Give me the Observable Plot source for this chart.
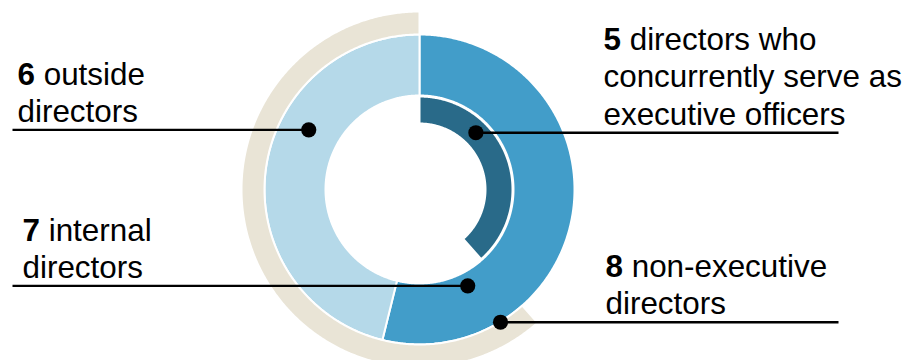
<!DOCTYPE html>
<html>
<head>
<meta charset="utf-8">
<script src="https://cdn.jsdelivr.net/npm/d3@7"></script>
<script src="https://cdn.jsdelivr.net/npm/@observablehq/plot@0.6"></script>
<style>
  html, body { margin: 0; padding: 0; background: #ffffff; }
</style>
</head>
<body>
<div id="chart"></div>
<script>
// ---------------- data ----------------
const categories = ["internal directors", "outside directors", "directors who concurrently serve as executive officers", "non-executive directors"];
const counts = [7, 6, 5, 8];
const rings = ["main", "main", "inner", "outer"];
// number of directors already passed (clockwise from 12 o'clock) before each arc starts
const starts = [0, 7, 0, 5];
const totalDirectors = 13;
const labelLines = [
  ["internal", "directors"],
  ["outside", "directors"],
  ["directors who", "concurrently serve as", "executive officers"],
  ["non-executive", "directors"]
];

// ---------------- styles / layout ----------------
const colors = ["#429dc9", "#b5d9e9", "#296a89", "#e9e4d6"];
const ringRadii = { main: [94, 155], inner: [66, 93], outer: [155, 178] };
// pointer dot (angle clockwise from top, radius) and leader line end / label x
const pointerAngle = [153.4, 298.3, 44.8, 148.6];
const pointerRadius = [107.7, 125.8, 80, 155.5];
const leaderEnd = [-407, -407, 419, 419];
const labelX = [-397, -402, 184, 186];
const fontSize = 31.4;
const lineGap = 37.3;
const baselineAbove = 8;
const fontFamily = "'Liberation Sans', Arial, Helvetica, sans-serif";

// ---------------- geometry ----------------
const rad = Math.PI / 180;
const polar = (deg, r) => [r * Math.sin(deg * rad), r * Math.cos(deg * rad)];

const arcMarks = categories.map((c, i) => {
  const a0 = starts[i] / totalDirectors * 360;
  const a1 = (starts[i] + counts[i]) / totalDirectors * 360;
  const [r0, r1] = ringRadii[rings[i]];
  const steps = Math.max(2, Math.ceil((a1 - a0) / 0.5));
  const pts = [];
  for (let k = 0; k <= steps; ++k) {
    const [x, y] = polar(a0 + (a1 - a0) * k / steps, r1);
    pts.push({x, y});
  }
  for (let k = steps; k >= 0; --k) {
    const [x, y] = polar(a0 + (a1 - a0) * k / steps, r0);
    pts.push({x, y});
  }
  pts.push(pts[0]);
  return Plot.line(pts, {x: "x", y: "y", fill: colors[i], stroke: "#ffffff", strokeWidth: 2, curve: "linear"});
});

const pointers = categories.map((c, i) => {
  const [x, y] = polar(pointerAngle[i], pointerRadius[i]);
  return {category: c, x, y, end: leaderEnd[i]};
});

// measure bold number + space to offset the rest of the first line
const ctx = document.createElement("canvas").getContext("2d");
function numberWidth(n) {
  ctx.font = `bold ${fontSize}px ${fontFamily}`;
  let w = ctx.measureText(String(n)).width;
  ctx.font = `${fontSize}px ${fontFamily}`;
  w += ctx.measureText(" ").width;
  return w;
}

const numberRows = [];
const textRows = [];
categories.forEach((c, i) => {
  const lines = labelLines[i];
  const n = lines.length;
  const y0 = pointers[i].y + baselineAbove;
  const firstY = y0 + (n - 1) * lineGap;
  numberRows.push({x: labelX[i], y: firstY, text: String(counts[i])});
  lines.forEach((t, j) => {
    textRows.push({
      x: labelX[i] + (j === 0 ? numberWidth(counts[i]) : 0),
      y: y0 + (n - 1 - j) * lineGap,
      text: t
    });
  });
});

const chart = Plot.plot({
  width: 911,
  height: 360,
  margin: 0,
  style: {fontFamily, background: "#ffffff"},
  x: {domain: [-419, 492], range: [0, 911], axis: null},
  y: {domain: [-171, 189], range: [360, 0], axis: null},
  marks: [
    ...arcMarks,
    Plot.link(pointers, {x1: "x", y1: "y", x2: "end", y2: "y", stroke: "#000000", strokeWidth: 2.3}),
    Plot.dot(pointers, {x: "x", y: "y", r: 7.6, fill: "#000000", stroke: null}),
    Plot.text(numberRows, {x: "x", y: "y", text: "text", textAnchor: "start", lineAnchor: "bottom", fontSize, fontWeight: "bold", fill: "#000000"}),
    Plot.text(textRows, {x: "x", y: "y", text: "text", textAnchor: "start", lineAnchor: "bottom", fontSize, fill: "#000000"})
  ]
});
document.getElementById("chart").appendChild(chart);
</script>
</body>
</html>
